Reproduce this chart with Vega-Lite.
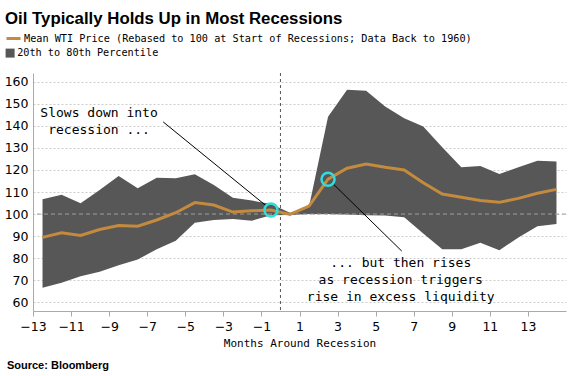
{
  "$schema": "https://vega.github.io/schema/vega-lite/v6.json",
  "width": 533,
  "height": 238,
  "autosize": {"type": "none"},
  "padding": {"left": 33, "top": 73, "right": 11, "bottom": 65},
  "background": "white",
  "title": {
    "text": "Oil Typically Holds Up in Most Recessions",
    "anchor": "start",
    "frame": "group",
    "dx": -28,
    "offset": 2,
    "font": "Liberation Sans",
    "fontWeight": "bold",
    "fontSize": 16.8,
    "color": "#000000"
  },
  "datasets": {
    "series": [
      {"month": -12.5, "p20": 66.5, "p80": 106.7, "mean": 89.4},
      {"month": -11.5, "p20": 68.8, "p80": 108.8, "mean": 91.5},
      {"month": -10.5, "p20": 71.8, "p80": 104.9, "mean": 90.3},
      {"month": -9.5, "p20": 73.8, "p80": 110.9, "mean": 93.0},
      {"month": -8.5, "p20": 76.8, "p80": 117.3, "mean": 94.8},
      {"month": -7.5, "p20": 79.4, "p80": 111.7, "mean": 94.5},
      {"month": -6.5, "p20": 84.0, "p80": 116.5, "mean": 97.3},
      {"month": -5.5, "p20": 87.9, "p80": 116.2, "mean": 100.6},
      {"month": -4.5, "p20": 96.1, "p80": 118.0, "mean": 105.2},
      {"month": -3.5, "p20": 97.3, "p80": 113.2, "mean": 104.1},
      {"month": -2.5, "p20": 97.7, "p80": 107.4, "mean": 100.9},
      {"month": -1.5, "p20": 97.0, "p80": 106.1, "mean": 101.5},
      {"month": -0.5, "p20": 99.5, "p80": 104.5, "mean": 101.8},
      {"month": 0.5, "p20": 99.6, "p80": 100.6, "mean": 99.8},
      {"month": 1.5, "p20": 100.0, "p80": 103.3, "mean": 103.6},
      {"month": 2.5, "p20": 100.0, "p80": 144.2, "mean": 115.8},
      {"month": 3.5, "p20": 99.8, "p80": 156.4, "mean": 120.8},
      {"month": 4.5, "p20": 99.5, "p80": 156.0, "mean": 122.7},
      {"month": 5.5, "p20": 99.3, "p80": 148.8, "mean": 121.2},
      {"month": 6.5, "p20": 98.5, "p80": 143.5, "mean": 120.0},
      {"month": 7.5, "p20": 91.2, "p80": 139.7, "mean": 114.2},
      {"month": 8.5, "p20": 84.0, "p80": 130.3, "mean": 109.1},
      {"month": 9.5, "p20": 84.0, "p80": 121.2, "mean": 107.6},
      {"month": 10.5, "p20": 87.0, "p80": 121.8, "mean": 106.1},
      {"month": 11.5, "p20": 83.6, "p80": 118.2, "mean": 105.3},
      {"month": 12.5, "p20": 89.4, "p80": 121.2, "mean": 107.1},
      {"month": 13.5, "p20": 94.5, "p80": 124.2, "mean": 109.4},
      {"month": 14.5, "p20": 95.5, "p80": 123.8, "mean": 111.2}
    ],
    "highlights": [
      {"month": -0.5, "value": 101.8},
      {"month": 2.5, "value": 115.8}
    ],
    "pointers": [
      {"x1": -6.16, "y1": 141.8, "x2": -0.76, "y2": 103.8},
      {"x1": 2.79, "y1": 113.5, "x2": 6.37, "y2": 83.2}
    ],
    "notes": [
      {"x": -9.53, "y": 145.9, "text": "Slows down into"},
      {"x": -9.53, "y": 138.2, "text": "recession ..."},
      {"x": 6.32, "y": 77.7, "text": "... but then rises"},
      {"x": 6.32, "y": 70.0, "text": "as recession triggers"},
      {"x": 6.32, "y": 62.3, "text": "rise in excess liquidity"}
    ],
    "source": [
      {"x": -14.37, "y": 31, "text": "Source: Bloomberg"}
    ]
  },
  "encoding": {
    "x": {
      "type": "quantitative",
      "scale": {"domain": [-13, 15], "nice": false, "zero": false},
      "axis": {
        "values": [-13, -11, -9, -7, -5, -3, -1, 1, 3, 5, 7, 9, 11, 13],
        "title": "Months Around Recession",
        "grid": false,
        "domainColor": "#aaaaaa",
        "tickColor": "#aaaaaa",
        "tickSize": 5,
        "labelFont": "DejaVu Sans",
        "labelFontSize": 12.5,
        "labelColor": "#000000",
        "labelPadding": 4,
        "labelFlush": false,
        "labelOverlap": false,
        "titleFont": "DejaVu Sans Mono",
        "titleFontSize": 11,
        "titleFontWeight": "normal",
        "titleColor": "#000000",
        "titlePadding": 5
      }
    },
    "y": {
      "type": "quantitative",
      "scale": {"domain": [56, 164], "nice": false, "zero": false},
      "axis": {
        "values": [60, 70, 80, 90, 100, 110, 120, 130, 140, 150, 160],
        "tickCount": 11,
        "title": null,
        "ticks": false,
        "grid": true,
        "gridColor": "#cccccc",
        "gridDash": [2, 2],
        "domainColor": "#aaaaaa",
        "labelFont": "DejaVu Sans",
        "labelFontSize": 12.5,
        "labelColor": "#000000",
        "labelPadding": 5,
        "labelOverlap": false
      }
    }
  },
  "layer": [
    {
      "data": {"name": "series"},
      "mark": {"type": "area", "opacity": 1},
      "encoding": {
        "x": {"field": "month"},
        "y": {"field": "p20"},
        "y2": {"field": "p80"},
        "fill": {
          "datum": "20th to 80th Percentile",
          "type": "nominal",
          "scale": {"range": ["#575757"]},
          "legend": {
            "title": null,
            "orient": "none",
            "legendX": -28,
            "legendY": -25,
            "padding": 0,
            "symbolType": "square",
            "symbolSize": 81,
            "symbolOpacity": 1,
            "symbolStrokeWidth": 0,
            "labelFont": "DejaVu Sans Mono",
            "labelFontSize": 10.2,
            "labelColor": "#000000",
            "labelOffset": 2,
            "labelLimit": 0
          }
        }
      }
    },
    {
      "mark": {"type": "rule", "color": "#a0a0a0", "strokeDash": [4, 3], "strokeWidth": 1},
      "encoding": {"y": {"datum": 100}, "x": null}
    },
    {
      "mark": {"type": "rule", "color": "#555555", "strokeDash": [3, 3], "strokeWidth": 1},
      "encoding": {"x": {"datum": 0}, "y": null}
    },
    {
      "data": {"name": "series"},
      "mark": {"type": "line", "strokeWidth": 3},
      "encoding": {
        "x": {"field": "month"},
        "y": {"field": "mean"},
        "stroke": {
          "datum": "Mean WTI Price (Rebased to 100 at Start of Recessions; Data Back to 1960)",
          "type": "nominal",
          "scale": {"range": ["#c48a3e"]},
          "legend": {
            "title": null,
            "orient": "none",
            "legendX": -28,
            "legendY": -43,
            "padding": 0,
            "symbolType": "stroke",
            "symbolSize": 196,
            "symbolStrokeWidth": 3,
            "labelFont": "DejaVu Sans Mono",
            "labelFontSize": 10.2,
            "labelColor": "#000000",
            "labelOffset": 2,
            "labelLimit": 0
          }
        }
      }
    },
    {
      "data": {"name": "pointers"},
      "mark": {"type": "rule", "color": "#000000", "strokeWidth": 1},
      "encoding": {
        "x": {"field": "x1"},
        "y": {"field": "y1"},
        "x2": {"field": "x2"},
        "y2": {"field": "y2"}
      }
    },
    {
      "data": {"name": "highlights"},
      "mark": {"type": "point", "shape": "circle", "filled": false, "size": 170, "strokeWidth": 2.5, "color": "#33dcdc", "opacity": 1},
      "encoding": {
        "x": {"field": "month"},
        "y": {"field": "value"}
      }
    },
    {
      "data": {"name": "notes"},
      "mark": {"type": "text", "font": "DejaVu Sans Mono", "fontSize": 13, "align": "center", "baseline": "middle", "color": "#000000"},
      "encoding": {
        "x": {"field": "x"},
        "y": {"field": "y"},
        "text": {"field": "text"}
      }
    },
    {
      "data": {"name": "source"},
      "mark": {"type": "text", "font": "Liberation Sans", "fontWeight": "bold", "fontSize": 11, "align": "left", "baseline": "middle", "color": "#000000"},
      "encoding": {
        "x": {"field": "x"},
        "y": {"field": "y"},
        "text": {"field": "text"}
      }
    }
  ],
  "config": {
    "view": {"stroke": null},
    "axis": {"domainWidth": 1}
  }
}
